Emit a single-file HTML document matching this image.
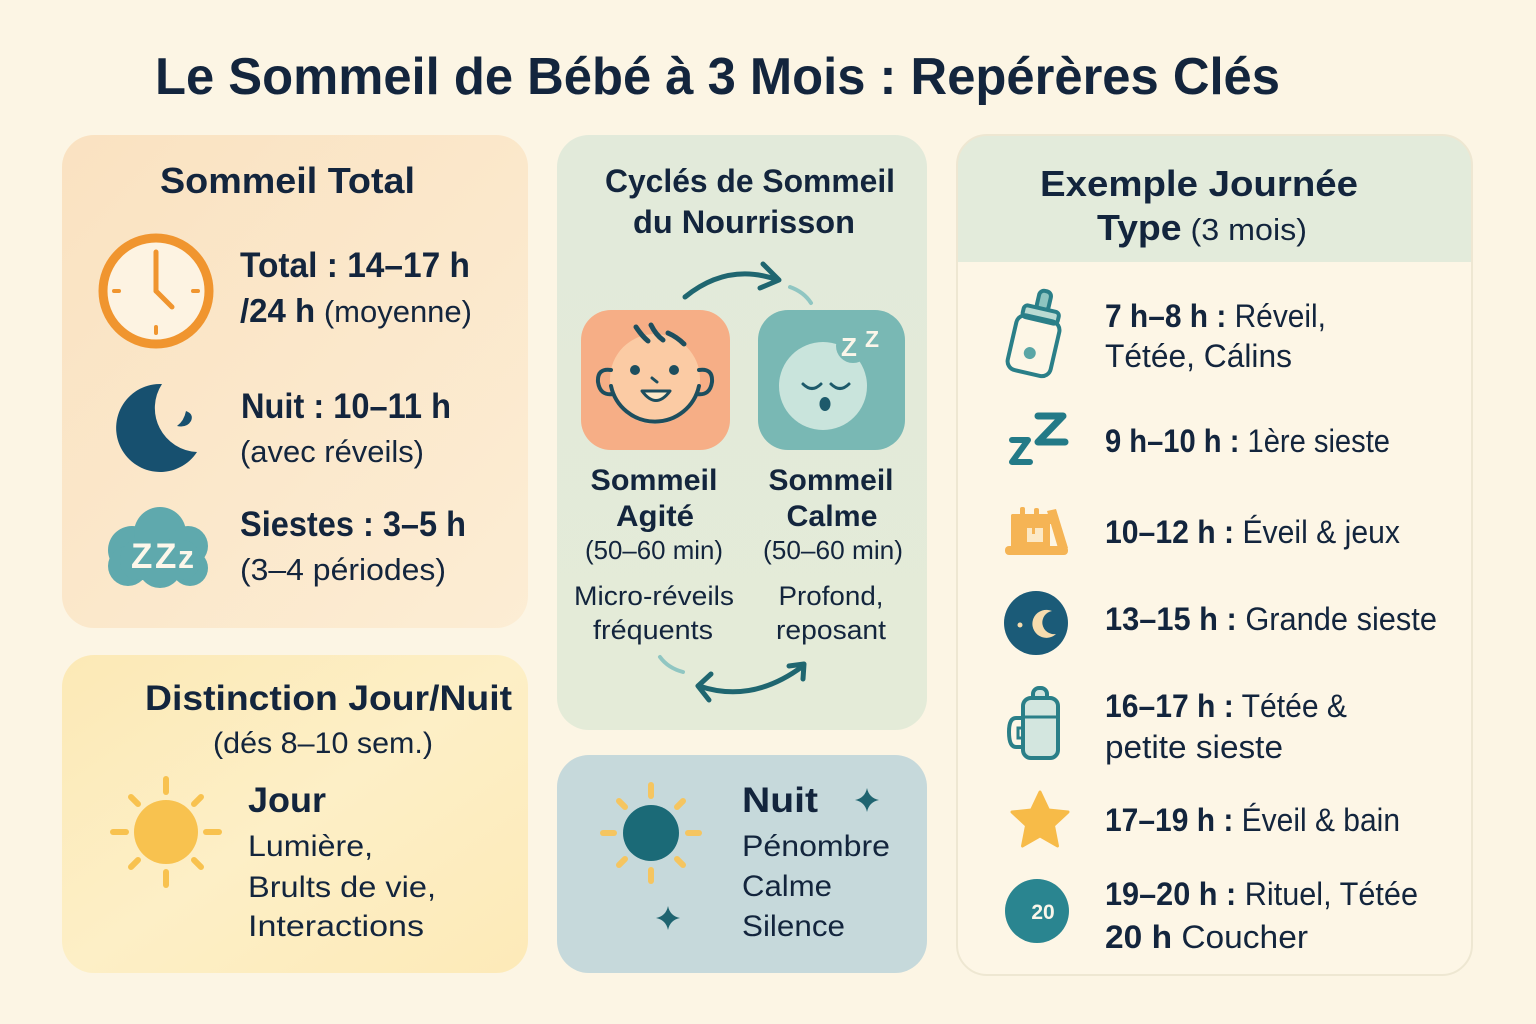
<!DOCTYPE html>
<html><head><meta charset="utf-8"><style>
html,body{margin:0;padding:0;background:#fcf5e4;}
svg{display:block;}
text{font-family:"Liberation Sans","DejaVu Sans",sans-serif;fill:#13253d;}
.b{font-weight:bold;}
.r{font-weight:normal;}
</style></head><body>
<svg width="1536" height="1024" viewBox="0 0 1536 1024" xmlns="http://www.w3.org/2000/svg">
<defs>
<linearGradient id="g1" x1="0" y1="0" x2="1" y2="1">
<stop offset="0" stop-color="#fae2c1"/><stop offset="1" stop-color="#fcedd4"/>
</linearGradient>
<linearGradient id="g2" x1="0" y1="0" x2="1" y2="1">
<stop offset="0" stop-color="#fce9b6"/><stop offset="0.5" stop-color="#fdefc6"/><stop offset="1" stop-color="#fdeab8"/>
</linearGradient>
<linearGradient id="g3" x1="0" y1="0" x2="0" y2="1">
<stop offset="0" stop-color="#e2eada"/><stop offset="1" stop-color="#e4ebd8"/>
</linearGradient>
<clipPath id="c5"><rect x="957" y="135" width="515" height="840" rx="30"/></clipPath>
</defs>
<rect width="1536" height="1024" fill="#fcf5e4"/>

<!-- Title -->
<text class="b" x="155" y="94" font-size="52" textLength="1125" lengthAdjust="spacingAndGlyphs" fill="#102a43">Le Sommeil de Bébé à 3 Mois : Repérères Clés</text>

<!-- Card 1 -->
<rect x="62" y="135" width="466" height="493" rx="32" fill="url(#g1)"/>
<text class="b" x="160" y="193" font-size="36" textLength="255" lengthAdjust="spacingAndGlyphs">Sommeil Total</text>
<!-- clock -->
<circle cx="156" cy="291" r="53" fill="#fdf3e2" stroke="#f0952f" stroke-width="9"/>
<g stroke="#f0952f" stroke-linecap="round" stroke-width="4">
<line x1="114" y1="291" x2="119" y2="291"/>
<line x1="193" y1="291" x2="198" y2="291"/>
<line x1="156" y1="327" x2="156" y2="333"/>
</g>
<g stroke="#f0952f" stroke-linecap="round" stroke-width="5">
<line x1="156" y1="291" x2="156" y2="252"/>
<line x1="156" y1="291" x2="172" y2="307"/>
</g>
<text class="b" x="240" y="277" font-size="35" textLength="230" lengthAdjust="spacingAndGlyphs">Total : 14–17 h</text>
<text x="240" y="322" font-size="33" textLength="232" lengthAdjust="spacingAndGlyphs"><tspan class="b">/24 h</tspan><tspan class="r" font-size="31"> (moyenne)</tspan></text>
<!-- moon -->
<path d="M162 384 A44 44 0 1 0 197 452 A44 44 0 0 1 162 384 Z" fill="#17506f"/>
<path d="M186 411 Q194 414 191 421 Q187 428 177 426 Q184 421 186 411 Z" fill="#17506f"/>
<text class="b" x="241" y="418" font-size="35" textLength="210" lengthAdjust="spacingAndGlyphs">Nuit : 10–11 h</text>
<text class="r" x="240" y="462" font-size="31" textLength="184" lengthAdjust="spacingAndGlyphs">(avec réveils)</text>
<!-- cloud -->
<g fill="#5fa9ad">
<circle cx="132" cy="550" r="24"/>
<circle cx="160" cy="533" r="26"/>
<circle cx="188" cy="546" r="20"/>
<circle cx="128" cy="566" r="20"/>
<circle cx="160" cy="566" r="22"/>
<circle cx="190" cy="568" r="18"/>
<rect x="120" y="540" width="80" height="40" rx="18"/>
</g>
<text class="b" x="131" y="568" font-size="35" style="fill:#fdf7ea">Z</text>
<text class="b" x="155" y="568" font-size="35" style="fill:#fdf7ea">Z</text>
<text class="b" x="178" y="568" font-size="32" style="fill:#fdf7ea">z</text>
<text class="b" x="240" y="536" font-size="35" textLength="226" lengthAdjust="spacingAndGlyphs">Siestes : 3–5 h</text>
<text class="r" x="240" y="580" font-size="31" textLength="206" lengthAdjust="spacingAndGlyphs">(3–4 périodes)</text>

<!-- Card 2 Distinction -->
<rect x="62" y="655" width="466" height="318" rx="32" fill="url(#g2)"/>
<text class="b" x="145" y="710" font-size="35" textLength="367" lengthAdjust="spacingAndGlyphs">Distinction Jour/Nuit</text>
<text class="r" x="213" y="753" font-size="30" textLength="220" lengthAdjust="spacingAndGlyphs">(dés 8–10 sem.)</text>
<circle cx="166" cy="832" r="32" fill="#f8c24f"/>
<g stroke="#f8c24f" stroke-width="6" stroke-linecap="round">
<line x1="166" y1="779" x2="166" y2="792"/>
<line x1="166" y1="872" x2="166" y2="885"/>
<line x1="113" y1="832" x2="126" y2="832"/>
<line x1="206" y1="832" x2="219" y2="832"/>
<line x1="131" y1="797" x2="138" y2="804"/>
<line x1="201" y1="797" x2="194" y2="804"/>
<line x1="131" y1="867" x2="138" y2="860"/>
<line x1="201" y1="867" x2="194" y2="860"/>
</g>
<text class="b" x="248" y="812" font-size="35" textLength="78" lengthAdjust="spacingAndGlyphs">Jour</text>
<text class="r" x="248" y="856" font-size="30" textLength="125" lengthAdjust="spacingAndGlyphs">Lumière,</text>
<text class="r" x="248" y="897" font-size="30" textLength="188" lengthAdjust="spacingAndGlyphs">Brults de vie,</text>
<text class="r" x="248" y="936" font-size="30" textLength="176" lengthAdjust="spacingAndGlyphs">Interactions</text>

<!-- Card 3 Cycles -->
<rect x="557" y="135" width="370" height="595" rx="32" fill="url(#g3)"/>
<text class="b" x="605" y="192" font-size="32" textLength="290" lengthAdjust="spacingAndGlyphs">Cyclés de Sommeil</text>
<text class="b" x="633" y="233" font-size="32" textLength="222" lengthAdjust="spacingAndGlyphs">du Nourrisson</text>
<!-- top arrow -->
<g fill="none" stroke="#1f6670" stroke-width="5" stroke-linecap="round" stroke-linejoin="round">
<path d="M685 297 Q728 262 778 280"/>
<path d="M763 264 L779 280 L760 288"/>
</g>
<path d="M790 287 Q804 292 811 303" fill="none" stroke="#90c6c2" stroke-width="4" stroke-linecap="round"/>
<!-- orange box -->
<rect x="581" y="310" width="149" height="140" rx="30" fill="#f6ae86"/>
<circle cx="655" cy="379" r="45" fill="#fbcba4"/>
<g fill="none" stroke="#1d4e5e" stroke-width="4" stroke-linecap="round">
<path d="M611 386 A45 45 0 0 0 699 386"/>
<path d="M611 370 Q597 368 598 382 Q600 396 613 394"/>
<path d="M699 370 Q713 368 712 382 Q710 396 697 394"/>
<path d="M636 327 Q642 336 648 341" stroke-width="5"/>
<path d="M651 325 Q656 335 663 340" stroke-width="5"/>
<path d="M668 333 Q677 337 684 344" stroke-width="5"/>
<path d="M652 378 L657 382" stroke-width="3"/>
</g>
<circle cx="635" cy="370" r="5" fill="#1d4e5e"/>
<circle cx="674" cy="370" r="5" fill="#1d4e5e"/>
<path d="M642 391 Q656 410 670 391 Z" fill="#fde9c8" stroke="#1d4e5e" stroke-width="3" stroke-linejoin="round"/>
<!-- teal box -->
<rect x="758" y="310" width="147" height="140" rx="30" fill="#79b8b4"/>
<circle cx="823" cy="386" r="44" fill="#c9e4dc"/>
<circle cx="853" cy="346" r="17" fill="#79b8b4"/>
<text class="b" x="841" y="356" font-size="26" style="fill:#fbf6ea">Z</text>
<text class="b" x="865" y="347" font-size="23" style="fill:#fbf6ea">Z</text>
<g fill="none" stroke="#1d5a6b" stroke-width="3" stroke-linecap="round">
<path d="M803 384 Q812 393 821 384"/>
<path d="M831 384 Q840 393 849 384"/>
</g>
<ellipse cx="825" cy="404" rx="5.5" ry="7" fill="#1d5a6b"/>
<!-- labels -->
<g text-anchor="middle">
<text class="b" x="654" y="490" font-size="30" textLength="127" lengthAdjust="spacingAndGlyphs">Sommeil</text>
<text class="b" x="655" y="526" font-size="30" textLength="78" lengthAdjust="spacingAndGlyphs">Agité</text>
<text class="r" x="654" y="559" font-size="26" textLength="138" lengthAdjust="spacingAndGlyphs">(50–60 min)</text>
<text class="r" x="654" y="605" font-size="27" textLength="160" lengthAdjust="spacingAndGlyphs">Micro-réveils</text>
<text class="r" x="653" y="639" font-size="27" textLength="120" lengthAdjust="spacingAndGlyphs">fréquents</text>
<text class="b" x="831" y="490" font-size="30" textLength="125" lengthAdjust="spacingAndGlyphs">Sommeil</text>
<text class="b" x="832" y="526" font-size="30" textLength="91" lengthAdjust="spacingAndGlyphs">Calme</text>
<text class="r" x="833" y="559" font-size="26" textLength="140" lengthAdjust="spacingAndGlyphs">(50–60 min)</text>
<text class="r" x="831" y="605" font-size="27" textLength="105" lengthAdjust="spacingAndGlyphs">Profond,</text>
<text class="r" x="831" y="639" font-size="27" textLength="110" lengthAdjust="spacingAndGlyphs">reposant</text>
</g>
<!-- bottom arrow -->
<path d="M660 657 Q668 668 683 672" fill="none" stroke="#90c6c2" stroke-width="4" stroke-linecap="round"/>
<g fill="none" stroke="#1f6670" stroke-width="5" stroke-linecap="round" stroke-linejoin="round">
<path d="M699 686 Q752 704 803 666"/>
<path d="M711 674 L698 686 L709 700"/>
<path d="M789 666 L804 664 L803 679"/>
</g>

<!-- Card 4 Nuit -->
<rect x="557" y="755" width="370" height="218" rx="32" fill="#c6d9db"/>
<g stroke="#f5c560" stroke-width="6" stroke-linecap="round">
<line x1="651" y1="785" x2="651" y2="796"/>
<line x1="651" y1="870" x2="651" y2="881"/>
<line x1="603" y1="833" x2="614" y2="833"/>
<line x1="688" y1="833" x2="699" y2="833"/>
<line x1="619" y1="801" x2="625" y2="807"/>
<line x1="683" y1="801" x2="677" y2="807"/>
<line x1="619" y1="865" x2="625" y2="859"/>
<line x1="683" y1="865" x2="677" y2="859"/>
</g>
<circle cx="651" cy="833" r="28" fill="#1b6a77"/>
<path d="M867 788 Q869 798 879 800 Q869 802 867 812 Q865 802 855 800 Q865 798 867 788 Z" fill="#1f6470"/>
<path d="M668 906 Q670 916 680 918 Q670 920 668 930 Q666 920 656 918 Q666 916 668 906 Z" fill="#1f6470"/>
<text class="b" x="742" y="812" font-size="35" textLength="76" lengthAdjust="spacingAndGlyphs">Nuit</text>
<text class="r" x="742" y="856" font-size="30" textLength="148" lengthAdjust="spacingAndGlyphs">Pénombre</text>
<text class="r" x="742" y="896" font-size="30" textLength="90" lengthAdjust="spacingAndGlyphs">Calme</text>
<text class="r" x="742" y="936" font-size="30" textLength="103" lengthAdjust="spacingAndGlyphs">Silence</text>

<!-- Card 5 Exemple -->
<g clip-path="url(#c5)">
<rect x="957" y="135" width="515" height="840" fill="#fdf6e6"/>
<rect x="957" y="135" width="515" height="127" fill="#e3ebdb"/>
</g>
<rect x="957" y="135" width="515" height="840" rx="30" fill="none" stroke="#eee7d2" stroke-width="2"/>
<text class="b" x="1040" y="196" font-size="36" textLength="318" lengthAdjust="spacingAndGlyphs">Exemple Journée</text>
<text x="1097" y="240" font-size="36" textLength="210" lengthAdjust="spacingAndGlyphs"><tspan class="b">Type</tspan><tspan class="r" font-size="31"> (3 mois)</tspan></text>

<!-- bottle -->
<g transform="rotate(13 1036 335)">
<rect x="1030" y="290" width="12" height="20" rx="5" fill="#8ec5c0" stroke="#2a7f88" stroke-width="4"/>
<rect x="1018" y="308" width="36" height="12" rx="4" fill="#b9dad2" stroke="#2a7f88" stroke-width="4"/>
<rect x="1014" y="318" width="44" height="56" rx="9" fill="none" stroke="#2a7f88" stroke-width="4"/>
<circle cx="1034" cy="354" r="6" fill="#5aa6a6"/>
</g>
<text x="1105" y="327" font-size="32" textLength="221" lengthAdjust="spacingAndGlyphs"><tspan class="b">7 h–8 h :</tspan><tspan class="r"> Réveil,</tspan></text>
<text class="r" x="1105" y="367" font-size="32" textLength="187" lengthAdjust="spacingAndGlyphs">Tétée, Cálins</text>

<!-- zZ -->
<g fill="none" stroke="#237a87" stroke-width="7" stroke-linecap="round" stroke-linejoin="round">
<path d="M1038 416 L1063 416 L1038 442 L1065 442"/>
<path d="M1012 440 L1028 440 L1012 462 L1030 462" stroke-width="6"/>
</g>
<text x="1105" y="452" font-size="32" textLength="285" lengthAdjust="spacingAndGlyphs"><tspan class="b">9 h–10 h :</tspan><tspan class="r"> 1ère sieste</tspan></text>

<!-- castle -->
<g fill="#f5b455">
<rect x="1005" y="546" width="63" height="9" rx="4"/>
<rect x="1011" y="514" width="10" height="34" rx="2"/>
<rect x="1011" y="514" width="42" height="10" rx="2"/>
<polygon points="1047,511 1056,509 1068,548 1058,548"/>
<rect x="1021" y="522" width="29" height="26"/>
<rect x="1020" y="507" width="5" height="9" rx="2"/>
<rect x="1034" y="508" width="5" height="8" rx="2"/>
</g>
<rect x="1027" y="528" width="16" height="14" fill="#fce9c6"/>
<rect x="1032" y="524" width="3" height="10" fill="#f5b455"/>
<text x="1105" y="543" font-size="32" textLength="295" lengthAdjust="spacingAndGlyphs"><tspan class="b">10–12 h :</tspan><tspan class="r"> Éveil &amp; jeux</tspan></text>

<!-- moon circle -->
<circle cx="1036" cy="623" r="32" fill="#1b5b78"/>
<path d="M1052 611 A14 14 0 1 0 1056 634 A11 11 0 1 1 1052 611 Z" fill="#f6dcae"/>
<circle cx="1020" cy="625" r="2.5" fill="#f6dcae"/>
<text x="1105" y="630" font-size="32" textLength="332" lengthAdjust="spacingAndGlyphs"><tspan class="b">13–15 h :</tspan><tspan class="r"> Grande sieste</tspan></text>

<!-- cup -->
<rect x="1033" y="688" width="14" height="14" rx="6" fill="#d3e6df" stroke="#2a7f88" stroke-width="4"/>
<rect x="1023" y="698" width="35" height="60" rx="8" fill="#d3e6df" stroke="#2a7f88" stroke-width="4"/>
<line x1="1023" y1="717" x2="1058" y2="717" stroke="#2a7f88" stroke-width="3"/>
<path d="M1023 718 L1016 718 Q1009 718 1009 732 Q1009 747 1016 747 L1023 747" fill="none" stroke="#2a7f88" stroke-width="4"/>
<path d="M1023 728 L1018 728 L1018 738 L1023 738" fill="none" stroke="#2a7f88" stroke-width="3"/>
<text x="1105" y="717" font-size="32" textLength="242" lengthAdjust="spacingAndGlyphs"><tspan class="b">16–17 h :</tspan><tspan class="r"> Tétée &amp;</tspan></text>
<text class="r" x="1105" y="758" font-size="32" textLength="178" lengthAdjust="spacingAndGlyphs">petite sieste</text>

<!-- star -->
<path d="M1040 792 L1048.5 810 L1068 812 L1053.5 825.5 L1057.5 846 L1040 836 L1022.5 846 L1026.5 825.5 L1012 812 L1031.5 810 Z" fill="#f7bb48" stroke="#f7bb48" stroke-width="3" stroke-linejoin="round"/>
<text x="1105" y="831" font-size="32" textLength="295" lengthAdjust="spacingAndGlyphs"><tspan class="b">17–19 h :</tspan><tspan class="r"> Éveil &amp; bain</tspan></text>

<!-- 20 circle -->
<circle cx="1037" cy="911" r="32" fill="#2a8590"/>
<text class="b" x="1043" y="919" font-size="21" text-anchor="middle" style="fill:#fbf6ea">20</text>
<text x="1105" y="905" font-size="32" textLength="313" lengthAdjust="spacingAndGlyphs"><tspan class="b">19–20 h :</tspan><tspan class="r"> Rituel, Tétée</tspan></text>
<text x="1105" y="948" font-size="32" textLength="203" lengthAdjust="spacingAndGlyphs"><tspan class="b">20 h</tspan><tspan class="r">  Coucher</tspan></text>
</svg>
</body></html>
